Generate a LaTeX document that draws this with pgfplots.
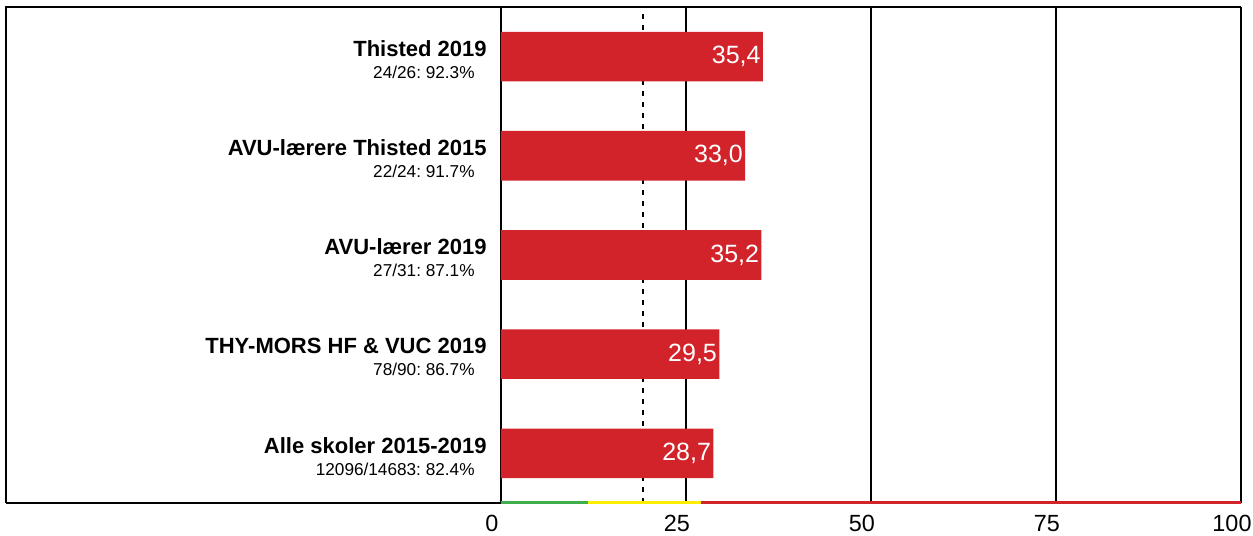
\documentclass[border=0pt]{standalone}
\usepackage{pgfplots}
\pgfplotsset{compat=1.18}
\usepackage{fontspec}
\setmainfont{Liberation Sans}
\frenchspacing
\definecolor{barred}{HTML}{D2232A}
\definecolor{lgreen}{HTML}{3DAE49}
\definecolor{lyellow}{HTML}{FFED00}
\newcommand{\lab}[2]{{\fontsize{11}{12}\selectfont\bfseries #1}\\[-1pt]{\fontsize{8.6}{10}\selectfont #2\hspace*{6pt}}}
\begin{document}
\begin{tikzpicture}
\begin{axis}[
  scale only axis, width=370pt, height=248pt,
  xmin=0, xmax=100, ymin=-0.5, ymax=4.5,
  axis line style={draw=none},
  xtick={0,25,50,75,100}, ytick={0,1,2,3,4},
  major tick length=0pt,
  xmajorgrids, grid style={black, line width=1pt},
  /pgf/number format/assume math mode=true,
  xticklabel style={font=\fontsize{11.7}{11.7}\selectfont, inner sep=0pt, xshift=-4.5pt, yshift=-6pt},
  yticklabels={
    {\lab{Alle skoler 2015-2019}{12096/14683: 82.4\%}},
    {\lab{THY-MORS HF \& VUC 2019}{78/90: 86.7\%}},
    {\lab{AVU-lærer 2019}{27/31: 87.1\%}},
    {\lab{AVU-lærere Thisted 2015}{22/24: 91.7\%}},
    {\lab{Thisted 2019}{24/26: 92.3\%}}},
  yticklabel style={align=right, inner sep=0pt, xshift=-7pt, yshift=-1.5pt},
  clip=false,
]
\addplot[black, line width=1pt, dash pattern=on 2.5pt off 3pt] coordinates {(19.2,-0.5) (19.2,4.5)};
\addplot[xbar, fill=barred, draw=none, bar width=0.5, bar shift=0pt,
  point meta=x, nodes near coords,
  nodes near coords style={anchor=east, text=white, inner sep=1pt,
    font=\fontsize{12.5}{12.5}\selectfont,
    /pgf/number format/.cd, fixed, fixed zerofill, precision=1, use comma, assume math mode=true}]
  coordinates {(28.7,0) (29.5,1) (35.2,2) (33.0,3) (35.4,4)};
\addplot[lgreen, line width=1.5pt] coordinates {(0,-0.5) (11.7,-0.5)};
\addplot[lyellow, line width=1.5pt] coordinates {(11.7,-0.5) (27.0,-0.5)};
\addplot[barred, line width=1.5pt] coordinates {(27.0,-0.5) (100,-0.5)};
\draw[black, line width=1pt] ([xshift=-247.5pt]rel axis cs:0,0) -- ([xshift=-247.5pt]rel axis cs:0,1) -- (rel axis cs:1,1);
\draw[black, line width=1pt] ([xshift=-247.5pt]rel axis cs:0,0) -- (rel axis cs:0,0);
\path ([xshift=-250.5pt,yshift=-16.5pt]rel axis cs:0,0) rectangle ([xshift=6pt,yshift=3.5pt]rel axis cs:1,1);
\end{axis}
\end{tikzpicture}
\end{document}
